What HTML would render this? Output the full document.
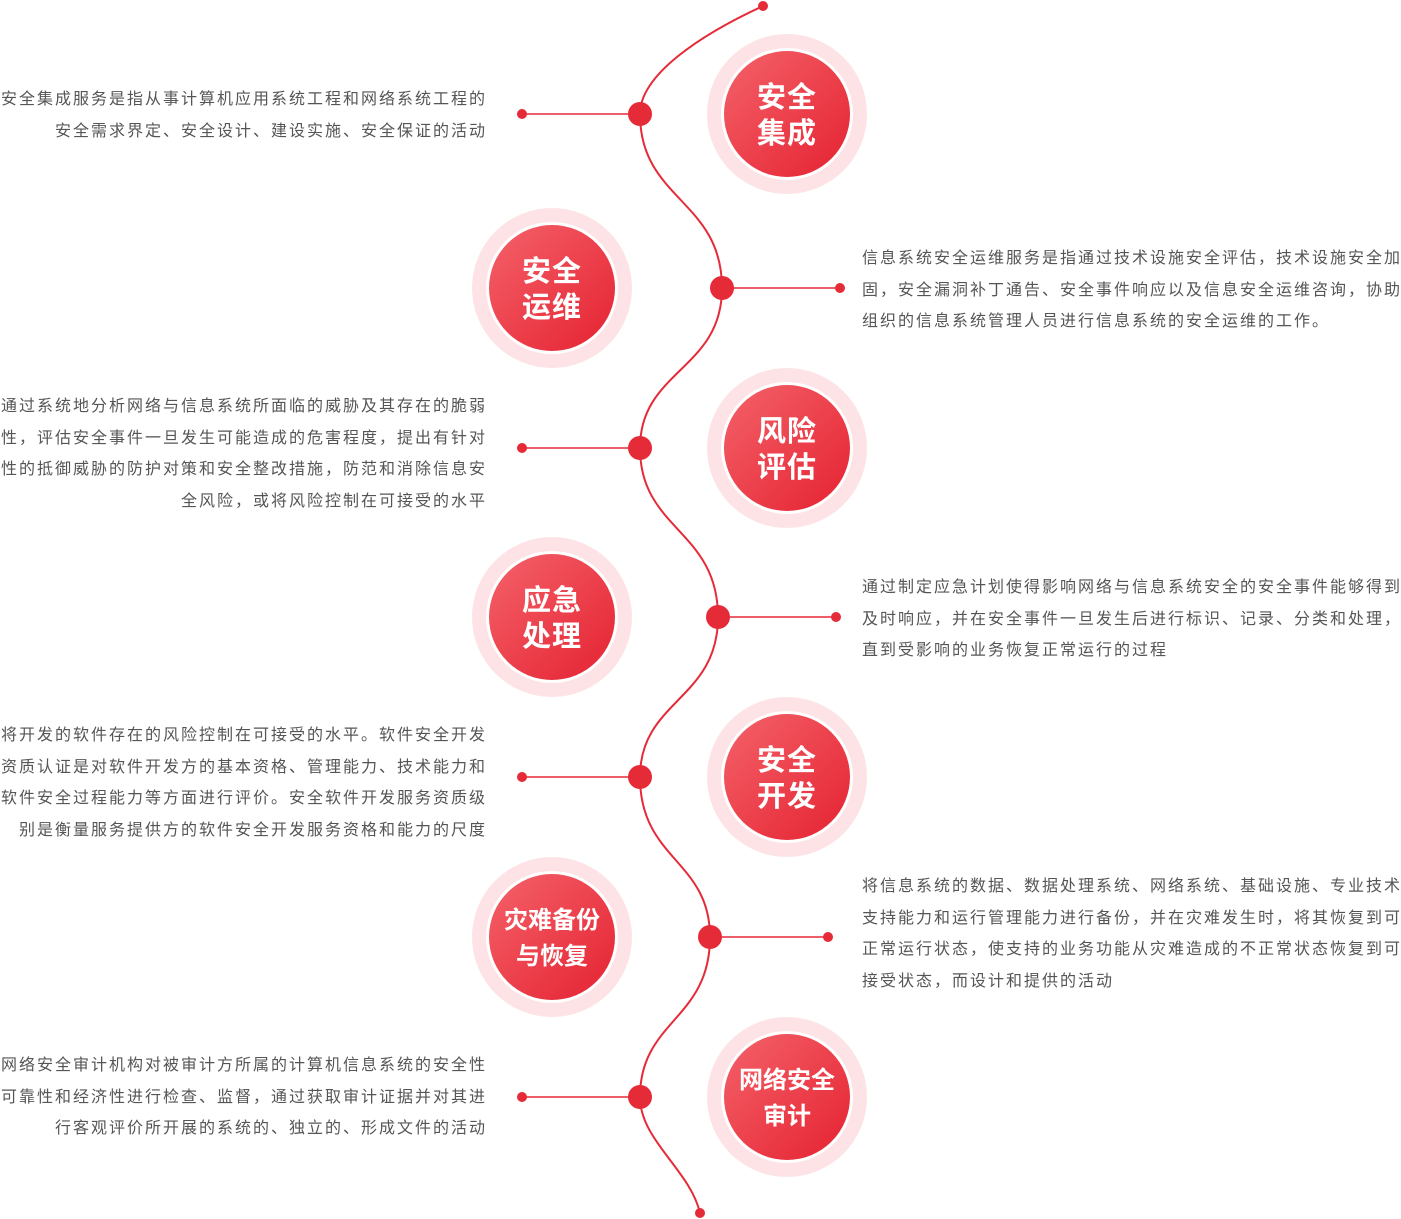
<!DOCTYPE html>
<html><head><meta charset="utf-8"><style>
body{margin:0;width:1401px;height:1219px;background:#fff;position:relative;overflow:hidden;font-family:"Liberation Sans","Noto Sans CJK SC",sans-serif}
.t{position:absolute;font-size:16px;letter-spacing:2px;line-height:31.5px;color:#555;white-space:nowrap}
.l{right:914px;text-align:right}
.r{left:862px}
.c{position:absolute;width:160px;height:160px;border-radius:50%;background:#fde3e5;margin:-80px 0 0 -80px}
.c div{position:absolute;left:14px;top:14px;width:132px;height:132px;border-radius:50%;background:#fff}
.c div div{left:3px;top:3px;width:126px;height:126px;background:linear-gradient(135deg,#f4626a,#e52231);display:flex;align-items:center;justify-content:center;text-align:center;color:#fff;font-weight:bold;font-size:29px;line-height:36px;letter-spacing:1px;box-sizing:border-box;padding-top:4px}
.c div div.s{font-size:24px;letter-spacing:0}
</style></head><body>
<svg width="1401" height="1219" style="position:absolute;left:0;top:0">
<path d="M763,6 C700,35 640,75 640,114 C640,200 722,200 722,288 C722,370 640,370 640,448 C640,530 718,530 718,617 C718,700 640,700 640,777 C640,860 710,860 710,937 C710,1020 640,1020 640,1097 C640,1140 690,1170 700,1213" fill="none" stroke="#e52a38" stroke-width="2"/>
<g stroke="#e52a38" stroke-width="1.5">
<line x1="522" y1="114" x2="640" y2="114"/><line x1="722" y1="288" x2="840" y2="288"/>
<line x1="522" y1="448" x2="640" y2="448"/><line x1="718" y1="617" x2="836" y2="617"/>
<line x1="522" y1="777" x2="640" y2="777"/><line x1="710" y1="937" x2="828" y2="937"/>
<line x1="522" y1="1097" x2="640" y2="1097"/></g>
<g fill="#e52a38">
<circle cx="763" cy="6" r="5"/><circle cx="700" cy="1213" r="5"/>
<circle cx="640" cy="114" r="12"/><circle cx="722" cy="288" r="12"/><circle cx="640" cy="448" r="12"/><circle cx="718" cy="617" r="12"/><circle cx="640" cy="777" r="12"/><circle cx="710" cy="937" r="12"/><circle cx="640" cy="1097" r="12"/>
<circle cx="522" cy="114" r="5"/><circle cx="840" cy="288" r="5"/><circle cx="522" cy="448" r="5"/><circle cx="836" cy="617" r="5"/><circle cx="522" cy="777" r="5"/><circle cx="828" cy="937" r="5"/><circle cx="522" cy="1097" r="5"/>
</g></svg>
<div class="c" style="left:787px;top:114px"><div><div>安全<br>集成</div></div></div>
<div class="c" style="left:552px;top:288px"><div><div>安全<br>运维</div></div></div>
<div class="c" style="left:787px;top:448px"><div><div>风险<br>评估</div></div></div>
<div class="c" style="left:552px;top:617px"><div><div>应急<br>处理</div></div></div>
<div class="c" style="left:787px;top:777px"><div><div>安全<br>开发</div></div></div>
<div class="c" style="left:552px;top:937px"><div><div class="s">灾难备份<br>与恢复</div></div></div>
<div class="c" style="left:787px;top:1097px"><div><div class="s">网络安全<br>审计</div></div></div>
<div class="t l" style="top:84px">安全集成服务是指从事计算机应用系统工程和网络系统工程的<br>安全需求界定、安全设计、建设实施、安全保证的活动</div>
<div class="t r" style="top:243px">信息系统安全运维服务是指通过技术设施安全评估，技术设施安全加<br>固，安全漏洞补丁通告、安全事件响应以及信息安全运维咨询，协助<br>组织的信息系统管理人员进行信息系统的安全运维的工作。</div>
<div class="t l" style="top:391px">通过系统地分析网络与信息系统所面临的威胁及其存在的脆弱<br>性，评估安全事件一旦发生可能造成的危害程度，提出有针对<br>性的抵御威胁的防护对策和安全整改措施，防范和消除信息安<br>全风险，或将风险控制在可接受的水平</div>
<div class="t r" style="top:572px">通过制定应急计划使得影响网络与信息系统安全的安全事件能够得到<br>及时响应，并在安全事件一旦发生后进行标识、记录、分类和处理，<br>直到受影响的业务恢复正常运行的过程</div>
<div class="t l" style="top:720px">将开发的软件存在的风险控制在可接受的水平。软件安全开发<br>资质认证是对软件开发方的基本资格、管理能力、技术能力和<br>软件安全过程能力等方面进行评价。安全软件开发服务资质级<br>别是衡量服务提供方的软件安全开发服务资格和能力的尺度</div>
<div class="t r" style="top:871px">将信息系统的数据、数据处理系统、网络系统、基础设施、专业技术<br>支持能力和运行管理能力进行备份，并在灾难发生时，将其恢复到可<br>正常运行状态，使支持的业务功能从灾难造成的不正常状态恢复到可<br>接受状态，而设计和提供的活动</div>
<div class="t l" style="top:1050px">网络安全审计机构对被审计方所属的计算机信息系统的安全性<br>可靠性和经济性进行检查、监督，通过获取审计证据并对其进<br>行客观评价所开展的系统的、独立的、形成文件的活动</div>
</body></html>
